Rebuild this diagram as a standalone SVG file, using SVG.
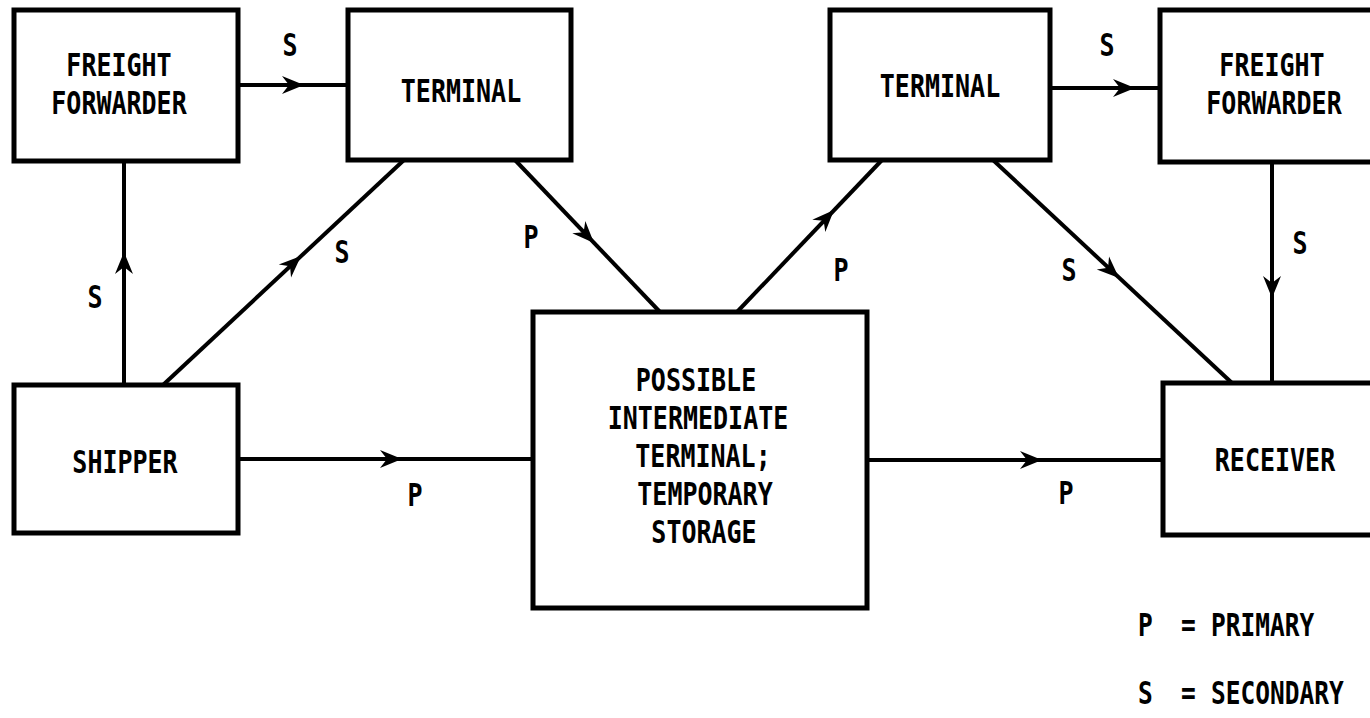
<svg xmlns="http://www.w3.org/2000/svg" xmlns:xlink="http://www.w3.org/1999/xlink" width="1370" height="718" viewBox="0 0 1370 718">
<style>
.box{fill:#fff;stroke:#000;stroke-width:5;stroke-linejoin:miter}
.ln{stroke:#000;stroke-width:4;fill:none}
.t{font-family:"DejaVu Sans Mono","Liberation Mono",monospace;font-weight:bold;font-size:25px;fill:#000;text-anchor:middle}
.l{font-family:"DejaVu Sans Mono","Liberation Mono",monospace;font-weight:bold;font-size:24.5px;fill:#000;text-anchor:start}
</style>
<defs>
<path id="ah" d="M0,0 L-22,-9 L-15,0 L-22,9 Z" fill="#000"/>
</defs>
<rect width="1370" height="718" fill="#fff"/>
<g id="connectors">
<line class="ln" x1="238" y1="85" x2="348" y2="85"/>
<use xlink:href="#ah" transform="translate(304,85)"/>
<line class="ln" x1="124" y1="385" x2="124" y2="161"/>
<use xlink:href="#ah" transform="translate(124,252) rotate(-90)"/>
<line class="ln" x1="163" y1="385" x2="404" y2="160"/>
<use xlink:href="#ah" transform="translate(301,256) rotate(-43)"/>
<line class="ln" x1="515" y1="160" x2="660" y2="312"/>
<use xlink:href="#ah" transform="translate(594,243) rotate(46.3)"/>
<line class="ln" x1="737" y1="312" x2="882" y2="160"/>
<use xlink:href="#ah" transform="translate(834,210) rotate(-46.3)"/>
<line class="ln" x1="1050" y1="88" x2="1160" y2="88"/>
<use xlink:href="#ah" transform="translate(1135,88)"/>
<line class="ln" x1="993" y1="160" x2="1232" y2="383"/>
<use xlink:href="#ah" transform="translate(1119,278) rotate(43)"/>
<line class="ln" x1="1272" y1="162" x2="1272" y2="383"/>
<use xlink:href="#ah" transform="translate(1272,298) rotate(90)"/>
<line class="ln" x1="238" y1="459" x2="533" y2="459"/>
<use xlink:href="#ah" transform="translate(402,459)"/>
<line class="ln" x1="867" y1="460" x2="1163" y2="460"/>
<use xlink:href="#ah" transform="translate(1042,460)"/>
</g>
<g id="connector-labels">
<text class="t" transform="translate(290,56) scale(1,1.3)">S</text>
<text class="t" transform="translate(95,308) scale(1,1.3)">S</text>
<text class="t" transform="translate(342,263) scale(1,1.3)">S</text>
<text class="t" transform="translate(531,248) scale(1,1.3)">P</text>
<text class="t" transform="translate(415,506) scale(1,1.3)">P</text>
<text class="t" transform="translate(841,281) scale(1,1.3)">P</text>
<text class="t" transform="translate(1107,56) scale(1,1.3)">S</text>
<text class="t" transform="translate(1069,281) scale(1,1.3)">S</text>
<text class="t" transform="translate(1300,254) scale(1,1.3)">S</text>
<text class="t" transform="translate(1066,504) scale(1,1.3)">P</text>
</g>
<g id="freight-forwarder-left">
<rect class="box" x="14" y="10" width="224" height="151"/>
<text class="t" transform="translate(119,76) scale(1,1.3)">FREIGHT</text>
<text class="t" transform="translate(119,114) scale(1,1.3)">FORWARDER</text>
</g>
<g id="terminal-1">
<rect class="box" x="348" y="10" width="223" height="150"/>
<text class="t" transform="translate(461,102) scale(1,1.3)">TERMINAL</text>
</g>
<g id="terminal-2">
<rect class="box" x="830" y="10" width="220" height="150"/>
<text class="t" transform="translate(940,97) scale(1,1.3)">TERMINAL</text>
</g>
<g id="freight-forwarder-right">
<path class="box" d="M1372,10 H1160 V162 H1372"/>
<text class="t" transform="translate(1272,76) scale(1,1.3)">FREIGHT</text>
<text class="t" transform="translate(1274,114) scale(1,1.3)">FORWARDER</text>
</g>
<g id="shipper">
<rect class="box" x="14" y="385" width="224" height="148"/>
<text class="t" transform="translate(125,473) scale(1,1.3)">SHIPPER</text>
</g>
<g id="intermediate-terminal">
<rect class="box" x="533" y="312" width="334" height="296"/>
<text class="t" transform="translate(696,391) scale(1,1.3)">POSSIBLE</text>
<text class="t" transform="translate(698,429) scale(1,1.3)">INTERMEDIATE</text>
<text class="t" transform="translate(703,467) scale(1,1.3)">TERMINAL;</text>
<text class="t" transform="translate(705,505) scale(1,1.3)">TEMPORARY</text>
<text class="t" transform="translate(704,543) scale(1,1.3)">STORAGE</text>
</g>
<g id="receiver">
<path class="box" d="M1372,383 H1163 V535 H1372"/>
<text class="t" transform="translate(1275,471) scale(1,1.3)">RECEIVER</text>
</g>
<g id="legend">
<text class="l" transform="translate(1138,636) scale(1,1.3)">P</text>
<text class="l" transform="translate(1181,636) scale(1,1.3)">=</text>
<text class="l" transform="translate(1211,636) scale(1,1.3)">PRIMARY</text>
<text class="l" transform="translate(1138,704) scale(1,1.3)">S</text>
<text class="l" transform="translate(1181,704) scale(1,1.3)">=</text>
<text class="l" transform="translate(1211,704) scale(1,1.3)">SECONDARY</text>
</g>
</svg>
